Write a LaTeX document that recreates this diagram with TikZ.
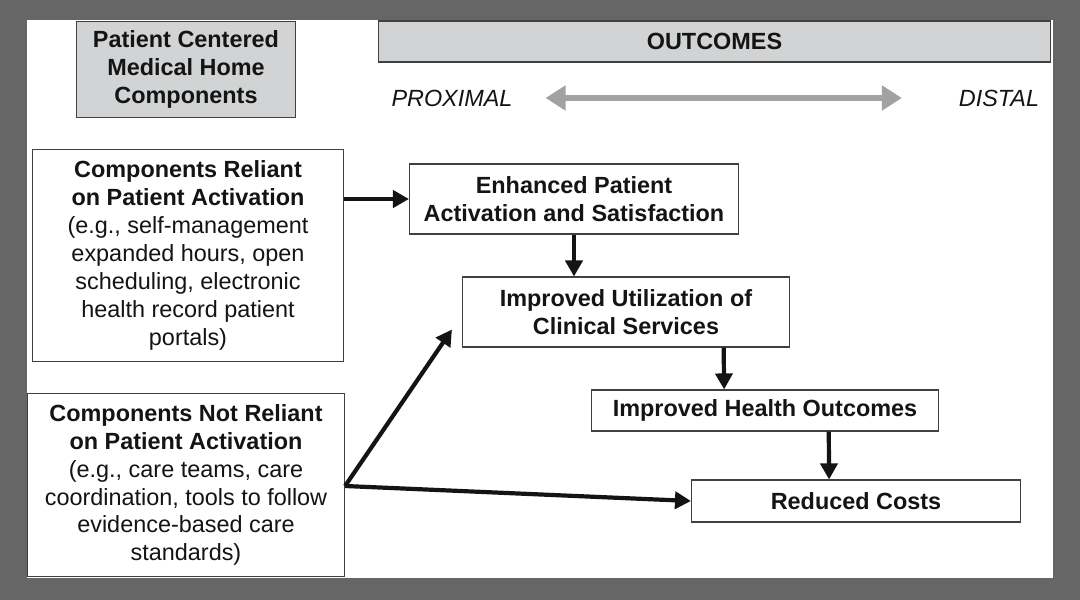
\documentclass[tikz,border=0pt]{standalone}
\usepackage{fontspec}
\setmainfont{Liberation Sans}
\usepackage{tikz}
\usetikzlibrary{arrows.meta, positioning}

\definecolor{framegrey}{HTML}{666666}
\definecolor{headgrey}{HTML}{D1D3D4}
\definecolor{arrowgrey}{HTML}{A2A2A2}
\definecolor{ink}{HTML}{141414}

\begin{document}
\begin{tikzpicture}[
    x=1bp, y=-1bp,
    box/.style={rectangle, draw=black!75, line width=1.3bp, fill=white, align=center, inner sep=0pt, text=ink, font=\fontsize{23.5}{28}\selectfont},
    headbox/.style={box, fill=headgrey},
    pole/.style={inner sep=0pt, text=ink, font=\fontsize{23.5}{28}\selectfont\itshape},
    relation/.style={-{Triangle[length=16bp, width=17bp]}, line width=4.2bp, draw=ink},
    spectrum/.style={{Triangle[length=20bp, width=24bp]}-{Triangle[length=20bp, width=24bp]}, line width=6bp, draw=arrowgrey}
]

% Frame
\fill[framegrey] (0,0) rectangle (1080,600);
\fill[white] (27,20) rectangle (1053,578);

% Headers
\node[headbox, minimum width=220, minimum height=97] (pcmh) at (186,69.5) {
    \textbf{Patient Centered}\\ \textbf{Medical Home}\\ \textbf{Components}
};
\node[headbox, minimum width=675, minimum height=41] (outcomes) at (714.5,41.5) {\textbf{OUTCOMES}};

\node[pole] (proximal) at (452,98) {PROXIMAL};
\node[pole] (distal) at (999,98) {DISTAL};
\draw[spectrum] ([xshift=33]proximal.east) -- ([xshift=-57]distal.west);

% Components
\node[box, minimum width=312, minimum height=213] (reliant) at (188,255.5) {
    \textbf{Components Reliant}\\
    \textbf{on Patient Activation}\\
    (e.g., self-management\\
    expanded hours, open\\
    scheduling, electronic\\
    health record patient\\
    portals)
};
\node[box, minimum width=318, minimum height=184] (notreliant) at (186,485) {
    \textbf{Components Not Reliant}\\
    \textbf{on Patient Activation}\\
    (e.g., care teams, care\\
    coordination, tools to follow\\
    evidence-based care\\
    standards)
};

% Outcomes
\node[box, minimum width=330, minimum height=70] (activation) at (574,199) {
    \textbf{Enhanced Patient}\\ \textbf{Activation and Satisfaction}
};
\node[box, minimum width=328, minimum height=70] (utilization) at (626,312) {
    \textbf{Improved Utilization of}\\ \textbf{Clinical Services}
};
\node[box, minimum width=348, minimum height=41] (health) at (765,410.5) {\textbf{Improved Health Outcomes}};
\node[box, minimum width=330, minimum height=42] (costs) at (856,501) {\textbf{Reduced Costs}};

% Relations
\draw[relation] (reliant.east |- activation.west) -- (activation.west);
\draw[relation] (activation.south) -- (activation.south |- utilization.north);
\draw[relation] ([xshift=98]utilization.south) -- ([xshift=-41]health.north);
\draw[relation] ([xshift=64]health.south) -- ([xshift=-27]costs.north);
\draw[relation] ([yshift=-1]notreliant.east) -- ([shift={(-10,-18)}]utilization.south west);
\draw[relation] ([yshift=-1]notreliant.east) -- (costs.west);

\end{tikzpicture}
\end{document}
